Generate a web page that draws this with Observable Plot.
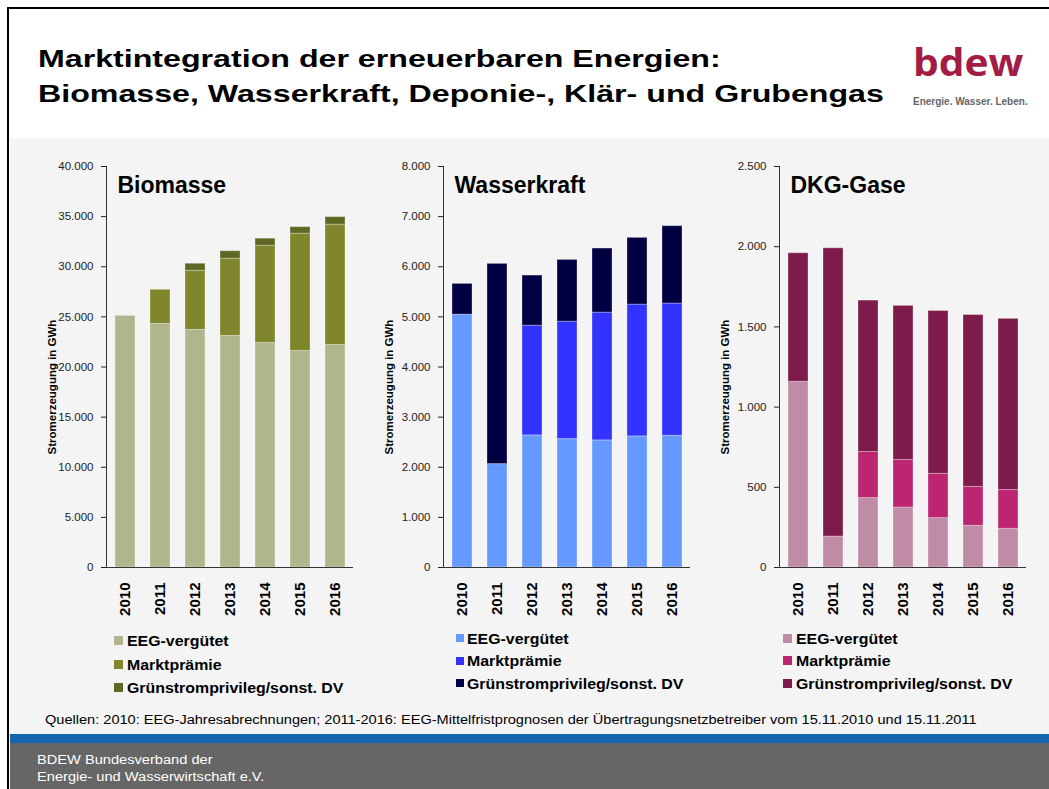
<!DOCTYPE html>
<html>
<head>
<meta charset="utf-8">
<script src="https://cdn.jsdelivr.net/npm/d3@7"></script>
<script src="https://cdn.jsdelivr.net/npm/@observablehq/plot@0.6"></script>
<style>
  body { margin: 0; background: #fff; }
  #page { position: relative; width: 1049px; height: 789px; overflow: hidden; background: #fff;
          font-family: Arial, "Liberation Sans", Helvetica, sans-serif; }
  .abs { position: absolute; }
  .sx { transform-origin: 0 50%; white-space: nowrap; }
  .legend .row { display: flex; align-items: center; font-weight: bold; font-size: 15px; color: #000; white-space: nowrap; }
  .legend .sw { display: inline-block; flex: none; }
  .legend .lt { display: inline-block; transform: scaleX(1.06); transform-origin: 0 50%; }
</style>
</head>
<body>
<div id="page">
  <div class="abs" style="left:10px;top:138px;width:1039px;height:596px;background:#f4f4f4;"></div>
  <div class="abs" style="left:10px;top:734px;width:1039px;height:9px;background:#1467ae;"></div>
  <div class="abs" style="left:10px;top:743px;width:1039px;height:46px;background:#666666;"></div>
  <div class="abs" style="left:7px;top:7px;width:1042px;height:2px;background:#000;"></div>
  <div class="abs" style="left:7px;top:7px;width:2px;height:782px;background:#000;"></div>

  <div class="abs sx" id="title" style="left:38px;top:41px;font-size:24px;line-height:35px;font-weight:bold;color:#000;transform:scaleX(1.34);"></div>
  <div class="abs sx" id="logo" style="left:913px;top:40px;font-family:'Open Sans',Arial,sans-serif;font-weight:bold;font-size:37px;line-height:1.2;color:#a31c44;transform:scaleX(1.1);"></div>
  <div class="abs sx" id="logosub" style="left:913px;top:97px;font-size:10px;line-height:1;font-weight:bold;color:#666;"></div>

  <div class="abs" id="c1" style="left:40px;top:150px;"></div>
  <div class="abs" id="c2" style="left:377px;top:150px;"></div>
  <div class="abs" id="c3" style="left:713px;top:150px;"></div>

  <div class="abs legend" id="l1" style="left:114px;top:629px;"></div>
  <div class="abs legend" id="l2" style="left:456px;top:627px;"></div>
  <div class="abs legend" id="l3" style="left:783px;top:627px;"></div>

  <div class="abs sx" id="source" style="left:45px;top:712px;font-size:12.5px;line-height:16px;color:#000;transform:scaleX(1.165);"></div>
  <div class="abs sx" id="footer" style="left:37px;top:752px;font-size:12.5px;line-height:17px;color:#fff;transform:scaleX(1.17);"></div>
</div>
<script>
// ---------- Data ----------
const years = ["2010", "2011", "2012", "2013", "2014", "2015", "2016"];
const seriesNames = ["EEG-vergütet", "Marktprämie", "Grünstromprivileg/sonst. DV"];

// Biomasse (GWh)
const bioEEG    = [25100, 24300, 23700, 23100, 22400, 21600, 22200];
const bioMarkt  = [0, 3400, 5900, 7700, 9700, 11700, 12000];
const bioGruen  = [0, 0, 700, 750, 700, 650, 750];

// Wasserkraft (GWh)
const wasEEG    = [5045, 2063, 2636, 2562, 2536, 2616, 2629];
const wasMarkt  = [0, 0, 2189, 2343, 2549, 2629, 2636];
const wasGruen  = [612, 3994, 999, 1231, 1278, 1331, 1544];

// DKG-Gase (GWh)
const dkgEEG    = [1158, 193, 433, 374, 308, 260, 241];
const dkgMarkt  = [0, 0, 287, 296, 276, 243, 242];
const dkgGruen  = [801, 1797, 944, 961, 1015, 1071, 1067];

const bioTicks = [0, 5000, 10000, 15000, 20000, 25000, 30000, 35000, 40000];
const wasTicks = [0, 1000, 2000, 3000, 4000, 5000, 6000, 7000, 8000];
const dkgTicks = [0, 500, 1000, 1500, 2000, 2500];

const bioColors = ["#b0b58e", "#7f862b", "#5e6823"];
const wasColors = ["#6699ff", "#3333ff", "#000042"];
const dkgColors = ["#c08ba5", "#bc2670", "#7d1b4a"];

const titleLines = ["Marktintegration der erneuerbaren Energien:", "Biomasse, Wasserkraft, Deponie-, Klär- und Grubengas"];
const logoText = "bdew";
const logoSub = "Energie. Wasser. Leben.";
const yLabel = "Stromerzeugung in GWh";
const sourceText = "Quellen: 2010: EEG-Jahresabrechnungen; 2011-2016: EEG-Mittelfristprognosen der Übertragungsnetzbetreiber vom 15.11.2010 und 15.11.2011";
const footerLines = ["BDEW Bundesverband der", "Energie- und Wasserwirtschaft e.V."];

// ---------- Text ----------
document.getElementById("title").innerHTML = titleLines.join("<br>");
document.getElementById("logo").textContent = logoText;
document.getElementById("logosub").textContent = logoSub;
document.getElementById("source").textContent = sourceText;
document.getElementById("footer").innerHTML = footerLines.join("<br>");

const fmt = d3.formatLocale({decimal: ",", thousands: ".", grouping: [3], currency: ["", "€"]}).format(",.0f");

function chart(title, series, ticks, colors) {
  const data = [];
  series.forEach((vals, i) => years.forEach((y, j) => data.push({year: y, series: seriesNames[i], value: vals[j]})));
  return Plot.plot({
    width: 320, height: 472,
    marginLeft: 66, marginRight: 7, marginTop: 16, marginBottom: 55,
    style: {background: "transparent", fontFamily: "Arial, 'Liberation Sans', sans-serif", overflow: "visible"},
    x: {domain: years, paddingInner: 0.43, paddingOuter: 0.22, label: null},
    y: {domain: [0, ticks[ticks.length - 1]], label: null},
    color: {domain: seriesNames, range: colors},
    marks: [
      Plot.barY(data, {x: "year", y: "value", fill: "series", stroke: "white", strokeOpacity: 0.3, strokeWidth: 1}),
      Plot.axisY({ticks: ticks, tickSize: 5, tickPadding: 8, tickFormat: fmt, fontSize: 11.5, color: "#222", label: null}),
      Plot.axisX({tickSize: 0, tickPadding: 15, tickRotate: -90, fontSize: 15, fontWeight: "bold", color: "#000", label: null}),
      Plot.frame({anchor: "left", stroke: "#333"}),
      Plot.ruleY([0], {stroke: "#333"}),
      Plot.text([title], {text: d => d, frameAnchor: "top-left", lineAnchor: "top", dx: 11, dy: 10, textAnchor: "start", fontSize: 23, fontWeight: "bold", fill: "#000"}),
      Plot.text([yLabel], {text: d => d, frameAnchor: "left", textAnchor: "middle", lineAnchor: "middle", rotate: -90, dx: -54, dy: 20, fontSize: 11.5, fontWeight: "bold", fill: "#000"})
    ]
  });
}

document.getElementById("c1").appendChild(chart("Biomasse", [bioEEG, bioMarkt, bioGruen], bioTicks, bioColors));
document.getElementById("c2").appendChild(chart("Wasserkraft", [wasEEG, wasMarkt, wasGruen], wasTicks, wasColors));
document.getElementById("c3").appendChild(chart("DKG-Gase", [dkgEEG, dkgMarkt, dkgGruen], dkgTicks, dkgColors));

function legend(id, colors, rowH, swW, gap) {
  const el = document.getElementById(id);
  seriesNames.forEach((name, i) => {
    const row = document.createElement("div");
    row.className = "row";
    row.style.height = rowH + "px";
    const sw = document.createElement("span");
    sw.className = "sw";
    sw.style.width = swW + "px";
    sw.style.height = swW + "px";
    sw.style.background = colors[i];
    sw.style.marginRight = gap + "px";
    const t = document.createElement("span");
    t.className = "lt";
    t.textContent = name;
    row.appendChild(sw);
    row.appendChild(t);
    el.appendChild(row);
  });
}
legend("l1", bioColors, 23.5, 9, 4);
legend("l2", wasColors, 22.5, 8, 3);
legend("l3", dkgColors, 22.5, 9, 4);
</script>
</body>
</html>
